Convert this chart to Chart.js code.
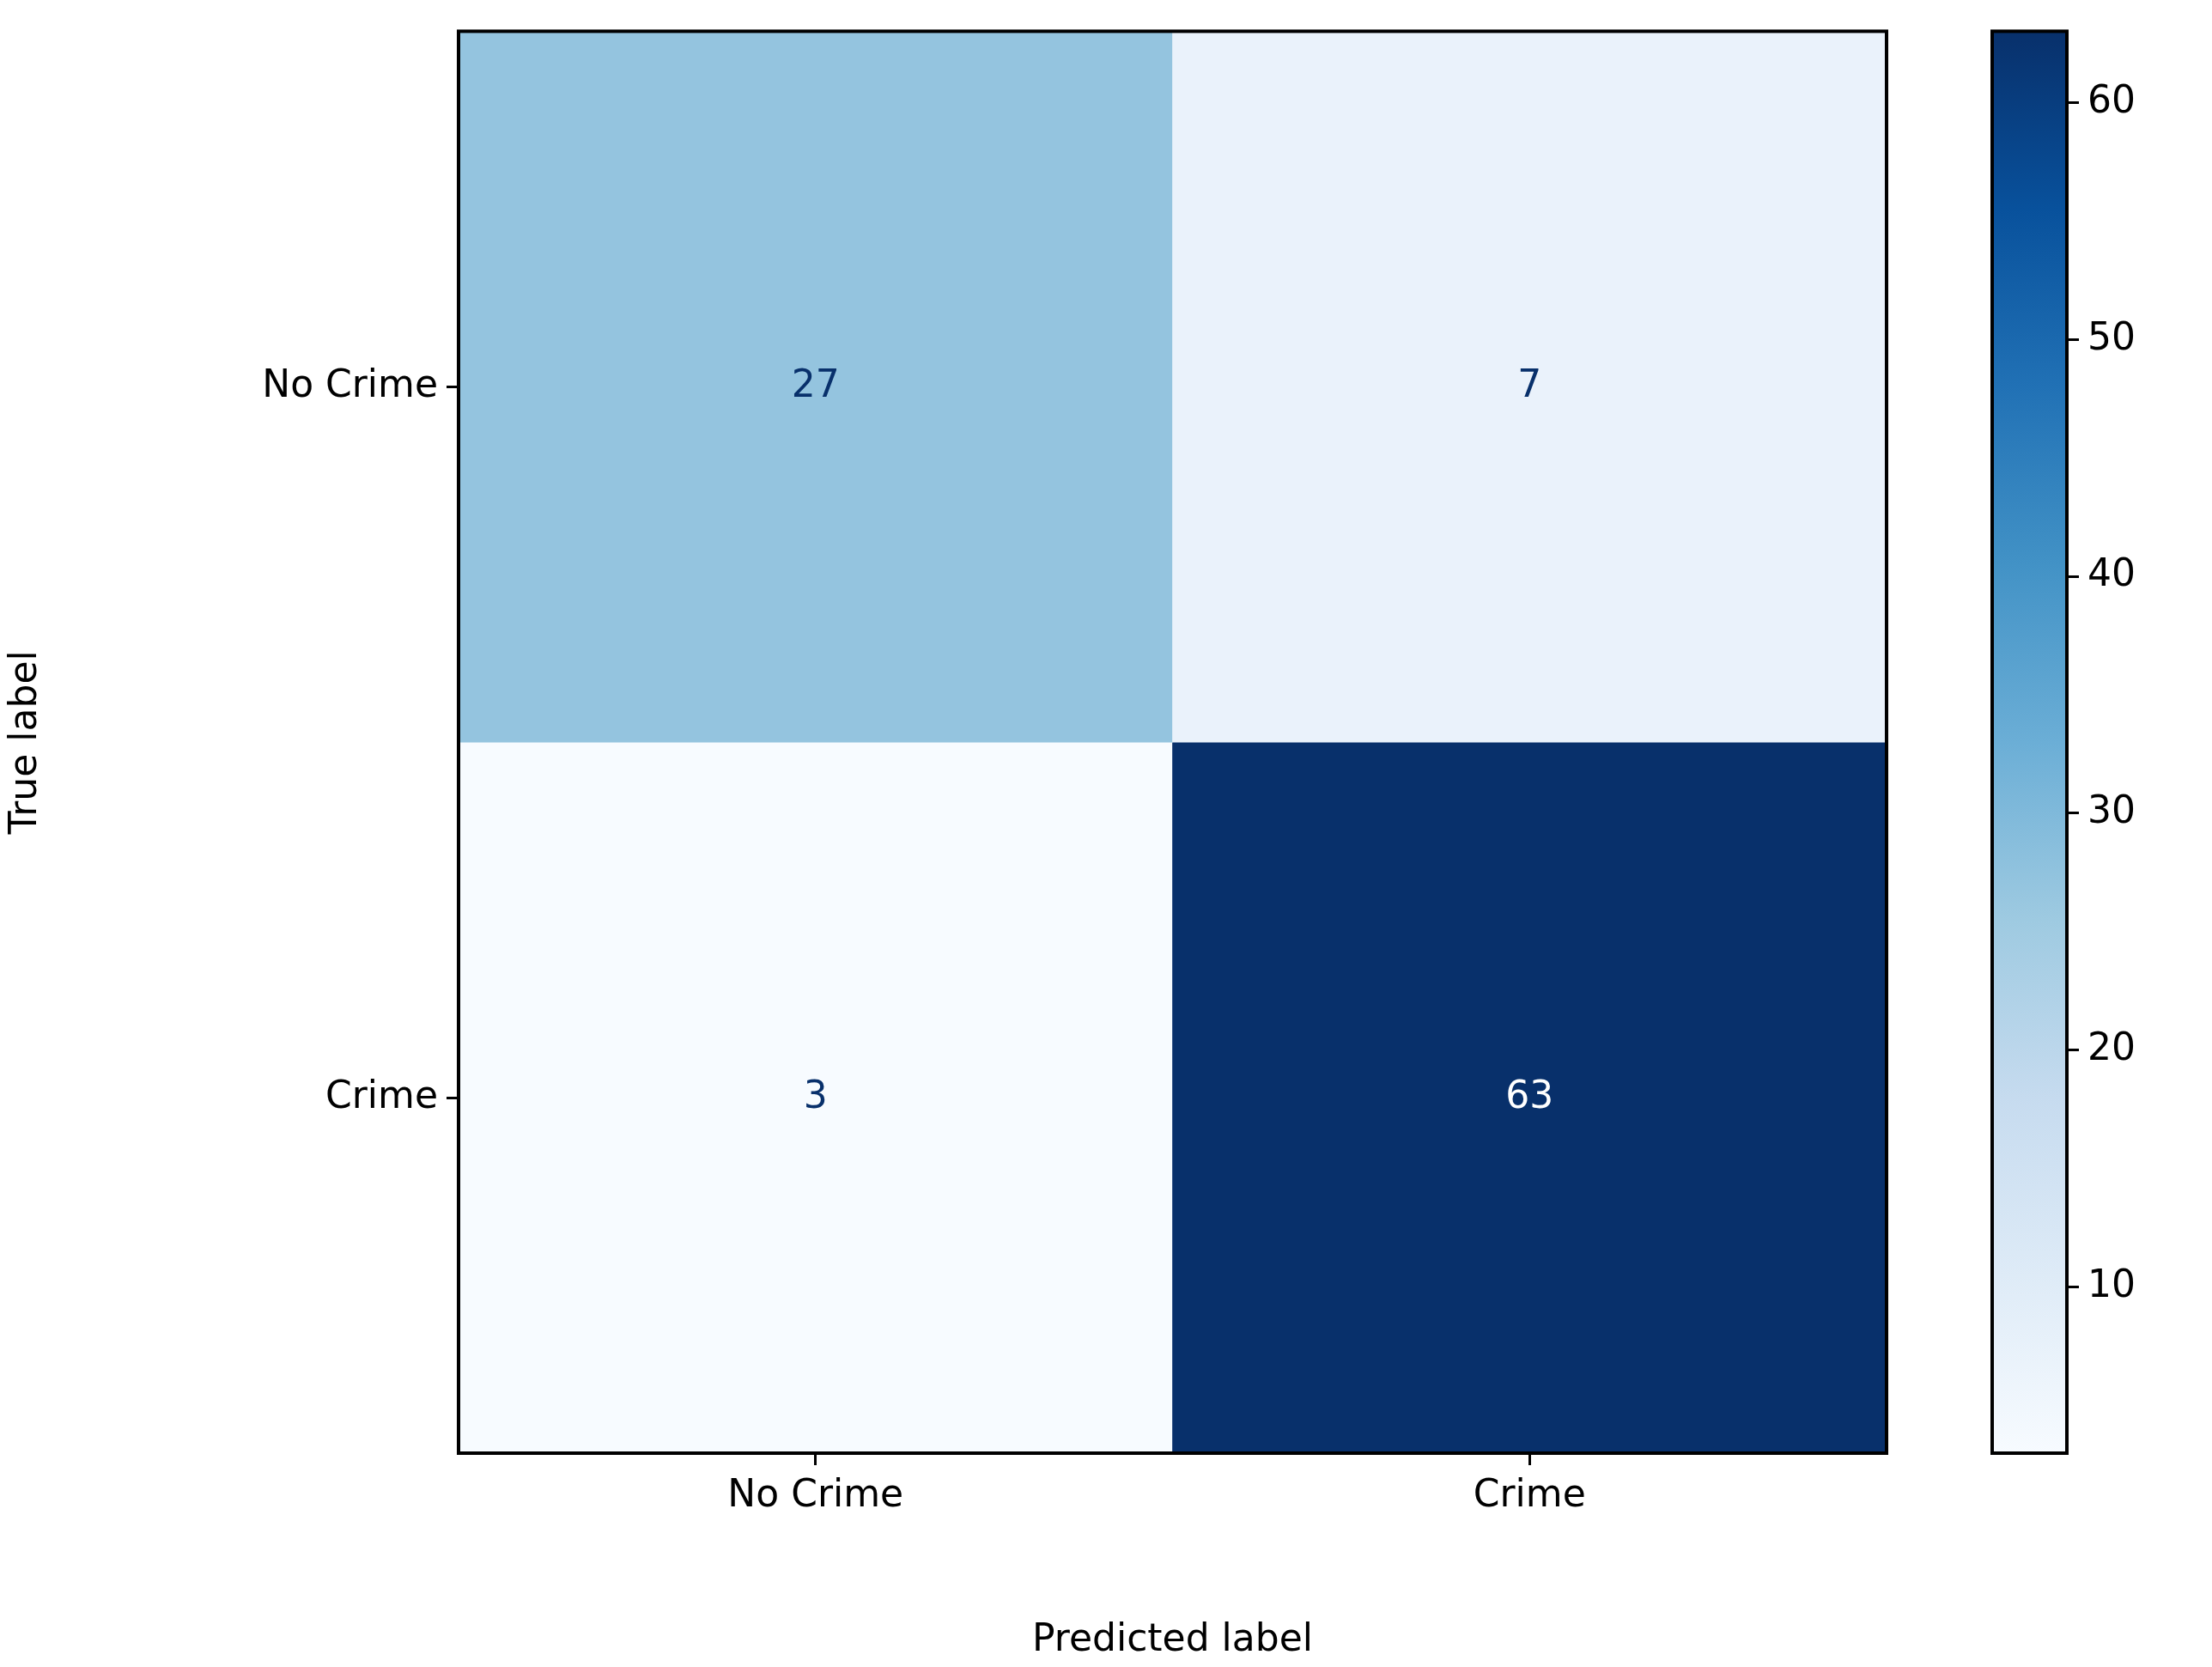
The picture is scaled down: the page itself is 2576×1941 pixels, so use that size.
<!DOCTYPE html>
<html>
<head>
<meta charset="utf-8">
<script src="https://cdn.jsdelivr.net/npm/chart.js@4.4.1/dist/chart.umd.min.js"></script>
<style>
  html, body { margin: 0; padding: 0; background: #fff; }
  #wrap { position: relative; width: 2576px; height: 1941px; }
  #main { position: absolute; left: 0; top: 0; width: 2230px; height: 1941px; }
  #bar { position: absolute; left: 2250px; top: 0; width: 326px; height: 1941px; }
</style>
</head>
<body>
<div id="wrap">
  <div id="main"><canvas id="matrixChart"></canvas></div>
  <div id="bar"><canvas id="colorbarChart"></canvas></div>
</div>
<script>
const classLabels = ['No Crime', 'Crime'];
const rowNoCrime = [27, 7];
const rowCrime = [3, 63];
const colorbarTicks = [10, 20, 30, 40, 50, 60];
const vmin = 3;
const vmax = 63;

const FONT = 'DejaVu Sans';
const blues = ['#f7fbff', '#deebf7', '#c6dbef', '#9ecae1', '#6baed6', '#4292c6', '#2171b5', '#08519c', '#08306b'];

function hexToRgb(h) {
    return [parseInt(h.slice(1, 3), 16), parseInt(h.slice(3, 5), 16), parseInt(h.slice(5, 7), 16)];
}
function bluesColor(v) {
    const t = Math.min(1, Math.max(0, (v - vmin) / (vmax - vmin))) * (blues.length - 1);
    const i = Math.min(blues.length - 2, Math.floor(t));
    const f = t - i;
    const a = hexToRgb(blues[i]), b = hexToRgb(blues[i + 1]);
    const c = a.map((x, k) => Math.round(x + (b[k] - x) * f));
    return `rgb(${c[0]},${c[1]},${c[2]})`;
}

const rows = [rowNoCrime, rowCrime];

const cellText = {
    id: 'cellText',
    afterDatasetsDraw(chart) {
        const { ctx, scales, chartArea } = chart;
        ctx.save();
        ctx.font = `44px "${FONT}"`;
        ctx.textAlign = 'center';
        ctx.textBaseline = 'middle';
        rows.forEach((row, r) => {
            row.forEach((v, c) => {
                const x = scales.x.getPixelForValue(c);
                const y = scales.y.getPixelForValue(r + 0.5);
                ctx.fillStyle = (v - vmin) / (vmax - vmin) > 0.5 ? '#ffffff' : '#08306b';
                ctx.fillText(String(v), x, y);
            });
        });
        ctx.strokeStyle = '#000';
        ctx.lineWidth = 4;
        ctx.strokeRect(chartArea.left, chartArea.top, chartArea.right - chartArea.left, chartArea.bottom - chartArea.top);
        ctx.restore();
    }
};

new Chart(document.getElementById('matrixChart'), {
    type: 'bar',
    data: {
        labels: classLabels,
        datasets: rows.map((row, r) => ({
            data: row.map(() => [r, r + 1]),
            backgroundColor: row.map(v => bluesColor(v)),
            borderWidth: 0,
            categoryPercentage: 1,
            barPercentage: 1,
            grouped: false
        }))
    },
    options: {
        responsive: true,
        maintainAspectRatio: false,
        animation: false,
        layout: { padding: { top: 33, right: 33, left: 0, bottom: 0 } },
        plugins: { legend: { display: false }, tooltip: { enabled: false } },
        scales: {
            x: {
                grid: { drawOnChartArea: false, color: '#000', lineWidth: 3, tickLength: 14, offset: false },
                border: { display: false },
                ticks: { color: '#000', font: { family: FONT, size: 44 }, padding: 10, maxRotation: 0 },
                title: { display: true, text: 'Predicted label', color: '#000', font: { family: FONT, size: 44 }, padding: { top: 14 } },
                afterFit(s) { s.height = 249; }
            },
            y: {
                type: 'linear',
                min: 0,
                max: 2,
                reverse: true,
                afterBuildTicks(s) { s.ticks = [{ value: 0.5 }, { value: 1.5 }]; },
                grid: { drawOnChartArea: false, color: '#000', lineWidth: 3, tickLength: 14 },
                border: { display: false },
                ticks: {
                    color: '#000',
                    font: { family: FONT, size: 44 },
                    padding: 10,
                    callback: v => classLabels[Math.floor(v)]
                },
                title: { display: true, text: 'True label', color: '#000', font: { family: FONT, size: 44 }, padding: { bottom: 20 } },
                afterFit(s) { s.width = 534; }
            }
        }
    },
    plugins: [cellText]
});

const gradientBar = {
    id: 'gradientBar',
    beforeDatasetsDraw(chart) {
        const { ctx, chartArea: a } = chart;
        ctx.save();
        const g = ctx.createLinearGradient(0, a.bottom, 0, a.top);
        blues.forEach((c, i) => g.addColorStop(i / (blues.length - 1), c));
        ctx.fillStyle = g;
        ctx.fillRect(a.left, a.top, a.right - a.left, a.bottom - a.top);
        ctx.strokeStyle = '#000';
        ctx.lineWidth = 4;
        ctx.strokeRect(a.left, a.top, a.right - a.left, a.bottom - a.top);
        ctx.restore();
    }
};

new Chart(document.getElementById('colorbarChart'), {
    type: 'bar',
    data: { labels: [''], datasets: [{ data: [] }] },
    options: {
        responsive: true,
        maintainAspectRatio: false,
        animation: false,
        layout: { padding: { top: 33, left: 70, right: 0, bottom: 249 } },
        plugins: { legend: { display: false }, tooltip: { enabled: false } },
        scales: {
            x: { display: false },
            y: {
                position: 'right',
                min: vmin,
                max: vmax,
                afterBuildTicks(s) { s.ticks = colorbarTicks.map(v => ({ value: v })); },
                grid: { drawOnChartArea: false, color: '#000', lineWidth: 3, tickLength: 14 },
                border: { display: false },
                ticks: { color: '#000', font: { family: FONT, size: 44 }, padding: 10 },
                afterFit(s) { s.width = 169; }
            }
        }
    },
    plugins: [gradientBar]
});
</script>
</body>
</html>
